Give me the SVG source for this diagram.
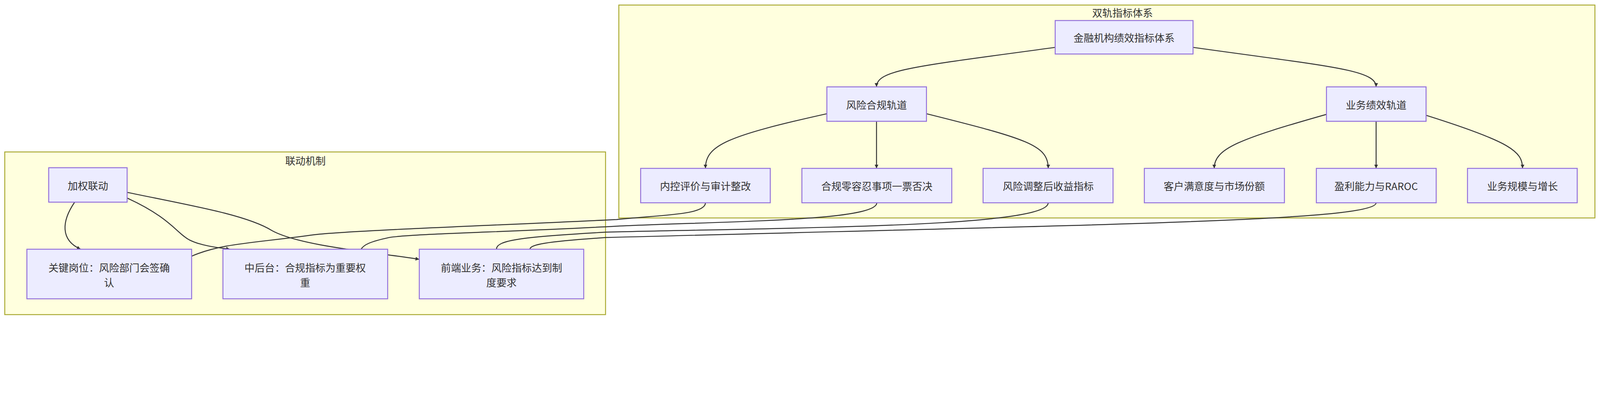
<svg xmlns="http://www.w3.org/2000/svg" width="5060" height="1012" viewBox="0 0 5060 1012" style="max-width:100vw;height:auto">
<style>
.cl{fill:#ffffde;stroke:#aaaa33;stroke-width:3}
.nd{fill:#ececff;stroke:#9370db;stroke-width:3}
.t{font-family:"Noto Sans CJK SC","Liberation Sans",sans-serif;font-size:32px;fill:#333;text-anchor:middle;dominant-baseline:central}
.e{fill:none;stroke:#333;stroke-width:3}
</style>
<defs>
<marker id="a" viewBox="0 0 10 10" refX="10" refY="5" markerWidth="12" markerHeight="12" markerUnits="userSpaceOnUse" orient="auto"><path d="M0,0L10,5L0,10z" fill="#333"/></marker>
</defs>
<g id="cluster-dual">
<rect class="cl" x="1957" y="16" width="3087" height="674"/>
<text class="t" x="3550" y="39">双轨指标体系</text>
</g>
<g id="cluster-link">
<rect class="cl" x="15" y="481" width="1900" height="515"/>
<text class="t" x="966" y="507">联动机制</text>
</g>
<g id="edges">
<path class="e" marker-end="url(#a)" d="M3337,150 C2900,210 2772,220 2772,275"/>
<path class="e" marker-end="url(#a)" d="M3773,150 C4200,210 4352,220 4352,275"/>
<path class="e" marker-end="url(#a)" d="M2615,360 C2300,430 2231,460 2231,533"/>
<path class="e" marker-end="url(#a)" d="M2772,384 L2772,533"/>
<path class="e" marker-end="url(#a)" d="M2930,360 C3250,440 3315,460 3315,533"/>
<path class="e" marker-end="url(#a)" d="M4195,362 C3920,440 3840,470 3840,533"/>
<path class="e" marker-end="url(#a)" d="M4352,384 L4352,533"/>
<path class="e" marker-end="url(#a)" d="M4510,365 C4780,450 4815,480 4815,533"/>
<path class="e" marker-end="url(#a)" d="M236,640 C195,700 190,760 255,789"/>
<path class="e" marker-end="url(#a)" d="M402,627 C540,690 560,740 600,760 S700,785 727,789"/>
<path class="e" marker-end="url(#a)" d="M402,609 C600,650 780,680 860,730 C950,780 1200,800 1326,821"/>
<path class="e" d="M2231,642 C2231,680 2100,680 1950,695 C1600,712 1100,730 995,743 C800,770 700,770 606,811"/>
<path class="e" d="M2773,642 C2773,700 2300,700 1950,716 C1600,735 1300,740 1230,752 C1170,765 1150,775 1142,789"/>
<path class="e" d="M3315,642 C3315,720 2500,720 1916,735 C1650,750 1570,760 1570,789"/>
<path class="e" d="M4352,642 C4352,700 3500,710 1916,752 C1720,765 1676,775 1676,789"/>
</g>
<g id="n-root"><rect class="nd" x="3337" y="65" width="436" height="106"/><text class="t" x="3555" y="118">金融机构绩效指标体系</text></g>
<g id="n-risk"><rect class="nd" x="2615" y="275" width="315" height="109"/><text class="t" x="2772" y="330">风险合规轨道</text></g>
<g id="n-biz"><rect class="nd" x="4195" y="275" width="315" height="109"/><text class="t" x="4352" y="330">业务绩效轨道</text></g>
<g id="n-l1"><rect class="nd" x="2026" y="533" width="410" height="109"/><text class="t" x="2231" y="588">内控评价与审计整改</text></g>
<g id="n-l2"><rect class="nd" x="2536" y="533" width="474" height="109"/><text class="t" x="2773" y="588">合规零容忍事项一票否决</text></g>
<g id="n-l3"><rect class="nd" x="3109" y="533" width="411" height="109"/><text class="t" x="3315" y="588">风险调整后收益指标</text></g>
<g id="n-l4"><rect class="nd" x="3619" y="533" width="443" height="109"/><text class="t" x="3840" y="588">客户满意度与市场份额</text></g>
<g id="n-l5"><rect class="nd" x="4163" y="533" width="379" height="109"/><text class="t" x="4352" y="588">盈利能力与RAROC</text></g>
<g id="n-l6"><rect class="nd" x="4641" y="533" width="347" height="109"/><text class="t" x="4815" y="588">业务规模与增长</text></g>
<g id="n-w"><rect class="nd" x="154" y="531" width="248" height="109"/><text class="t" x="278" y="586">加权联动</text></g>
<g id="n-k"><rect class="nd" x="85" y="789" width="521" height="157"/><text class="t" x="345" y="846">关键岗位：风险部门会签确</text><text class="t" x="345" y="893">认</text></g>
<g id="n-m"><rect class="nd" x="705" y="789" width="521" height="157"/><text class="t" x="965" y="846">中后台：合规指标为重要权</text><text class="t" x="965" y="893">重</text></g>
<g id="n-f"><rect class="nd" x="1326" y="789" width="520" height="157"/><text class="t" x="1586" y="846">前端业务：风险指标达到制</text><text class="t" x="1586" y="893">度要求</text></g>
</svg>
